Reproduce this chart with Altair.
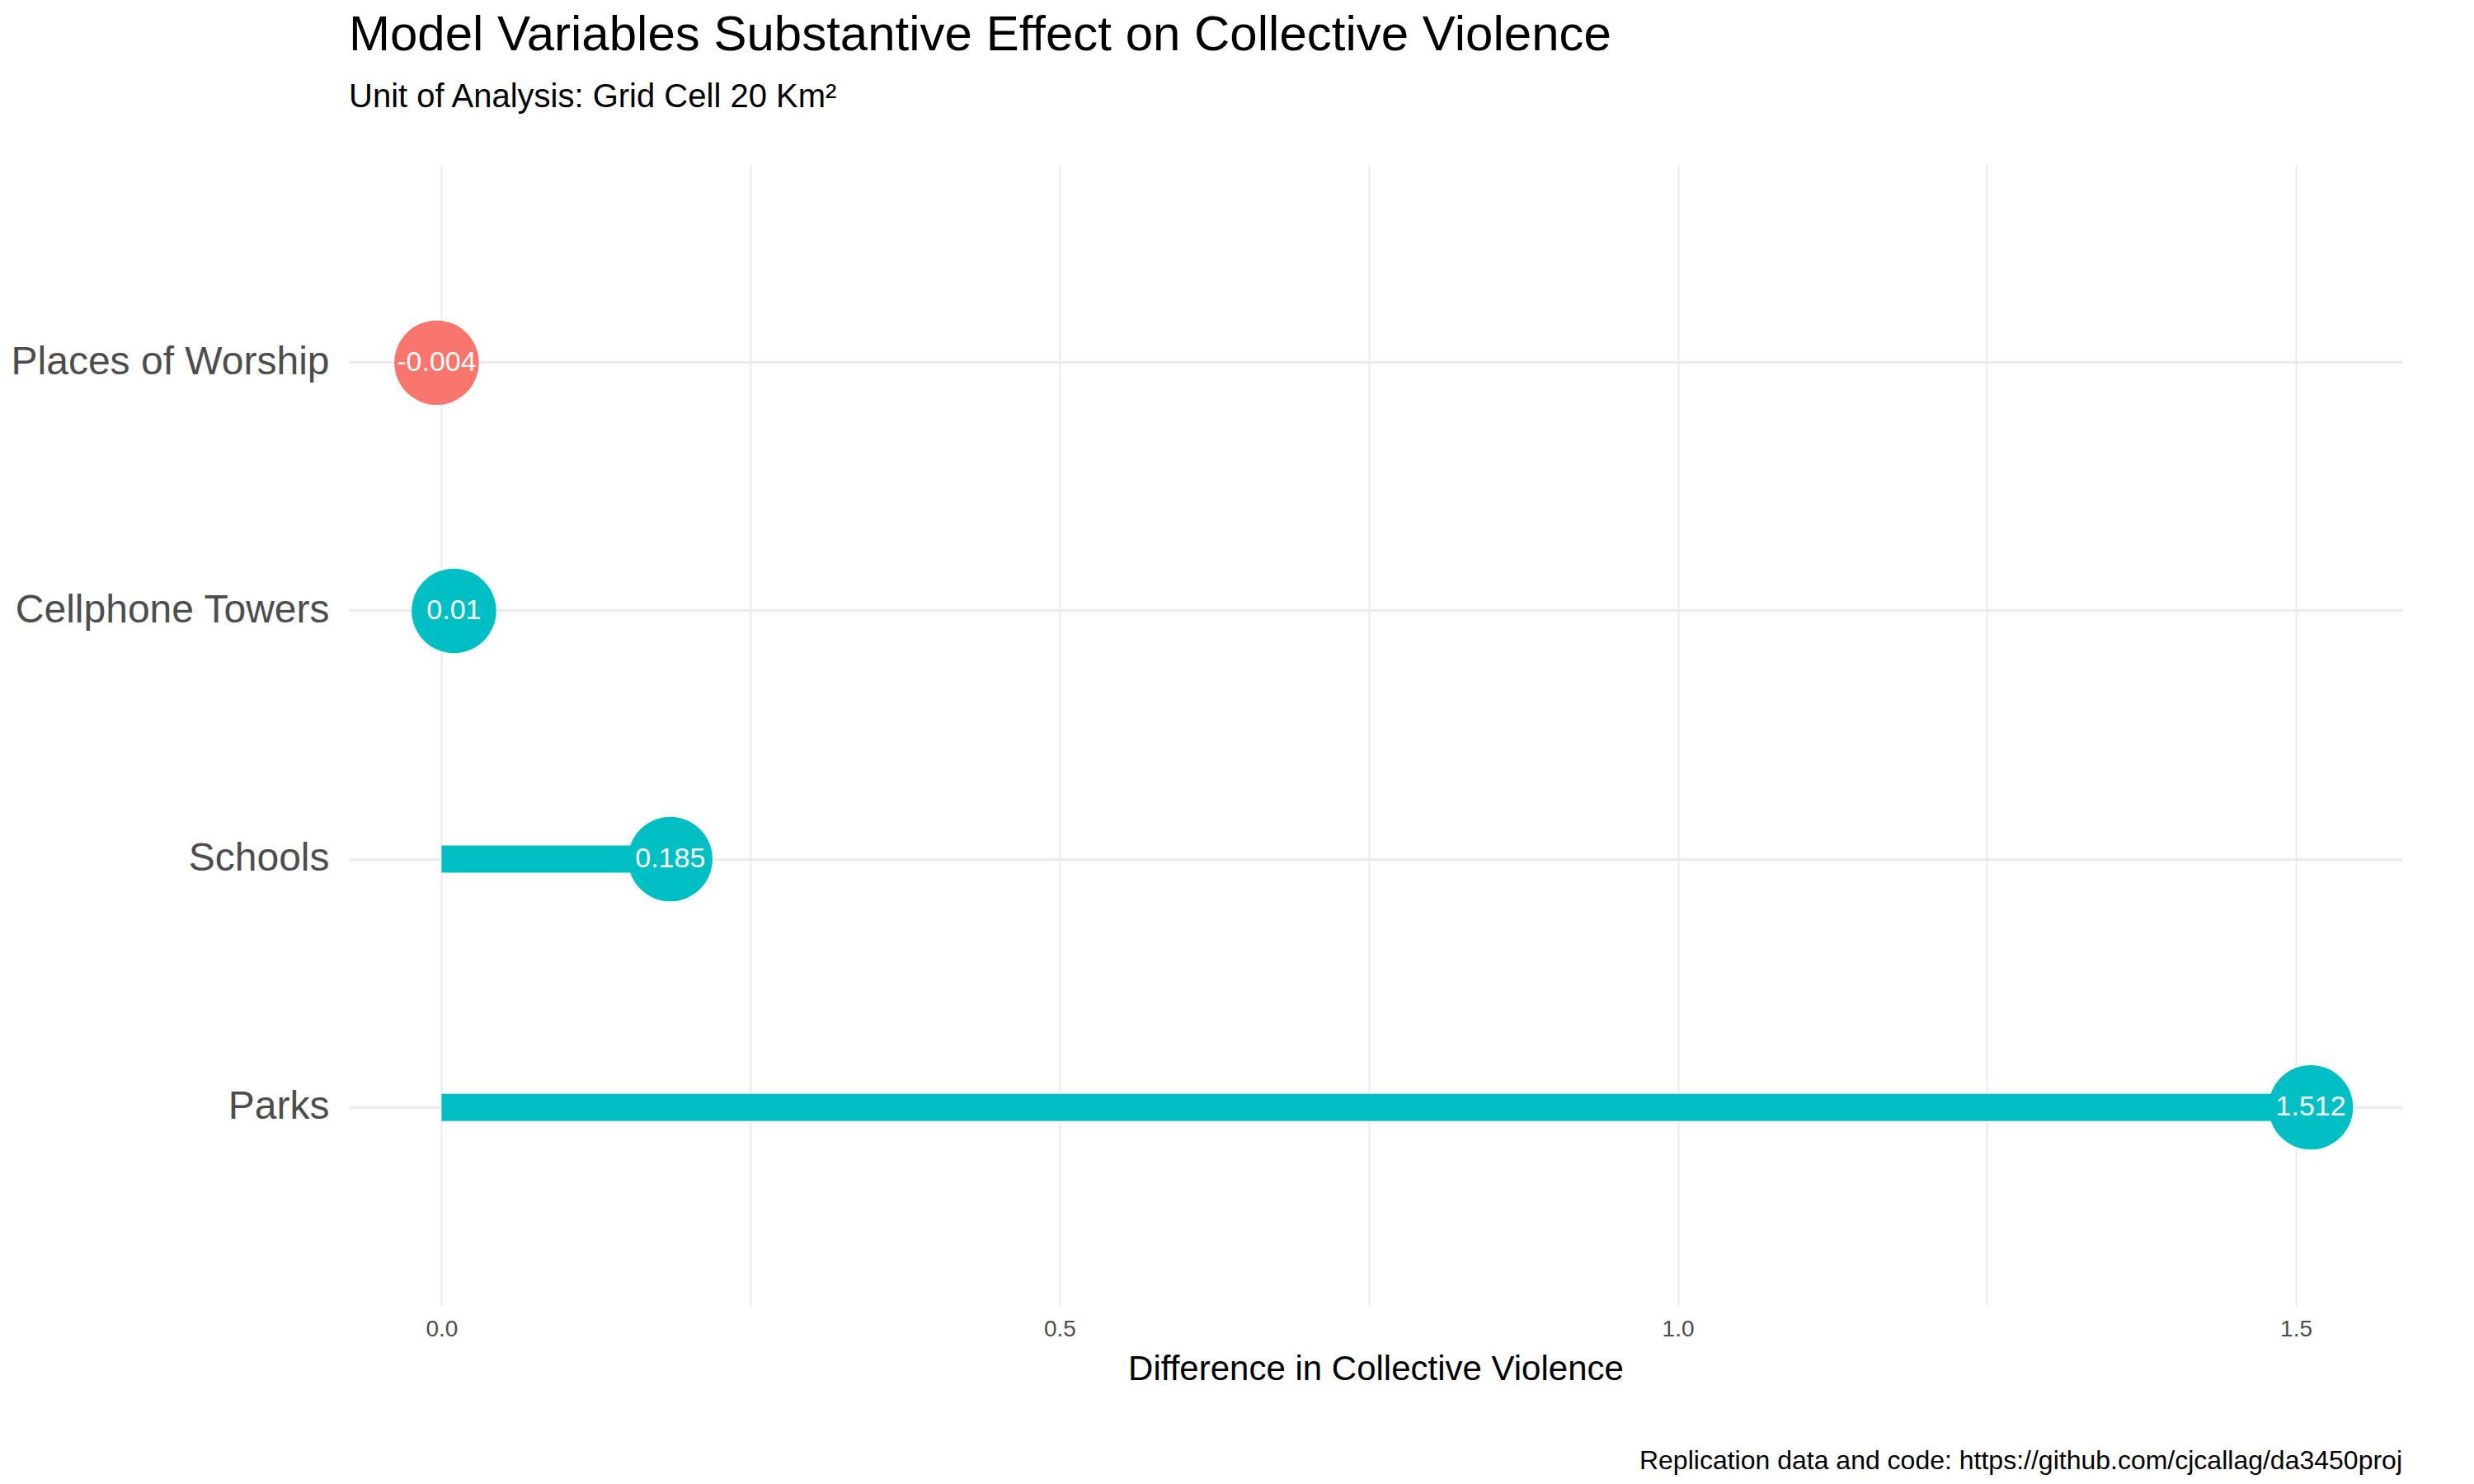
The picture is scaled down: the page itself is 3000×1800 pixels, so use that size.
import altair as alt
import pandas as pd

categories = ["Places of Worship", "Cellphone Towers", "Schools", "Parks"]
values = [-0.004, 0.01, 0.185, 1.512]
labels = ["-0.004", "0.01", "0.185", "1.512"]
signs = ["neg", "pos", "pos", "pos"]

df = pd.DataFrame({"cat": categories, "val": values, "lab": labels, "sign": signs, "zero": [0]*4})

W, H = 2490, 1385
xs = alt.Scale(domain=[-0.075, 1.586], nice=False, zero=False)
ys = alt.Scale(domain=categories, padding=0.6)
col = alt.Color("sign:N", scale=alt.Scale(domain=["neg", "pos"], range=["#F8766D", "#00BFC4"]), legend=None)

base = alt.Chart(df)
rule = base.mark_rule(strokeWidth=33).encode(
    x=alt.X("zero:Q", scale=xs, axis=alt.Axis(
        values=[0, 0.25, 0.5, 0.75, 1.0, 1.25, 1.5],
        labelExpr="datum.value % 0.5 == 0 ? format(datum.value, '.1f') : ''",
        title="Difference in Collective Violence", titleFontSize=42, titleFont="Liberation Sans",
        titleFontWeight="normal", titleColor="black", titlePadding=14,
        labelFontSize=28, labelColor="#4D4D4D", labelFont="Liberation Sans", labelPadding=14,
        gridColor="#EBEBEB", gridWidth=2, domain=False, ticks=False)),
    x2="val:Q",
    y=alt.Y("cat:N", scale=ys, sort=categories, axis=alt.Axis(
        title=None, labelFontSize=48, labelColor="#4D4D4D", labelFont="Liberation Sans", labelPadding=24,
        labelLimit=0, grid=True, gridColor="#EBEBEB", gridWidth=3, domain=False, ticks=False)),
    color=col,
)
pts = base.mark_circle(size=10500, opacity=1).encode(x=alt.X("val:Q", scale=xs), y=alt.Y("cat:N", scale=ys, sort=categories), color=col)
txt = base.mark_text(color="white", fontSize=34, font="Liberation Sans").encode(
    x=alt.X("val:Q", scale=xs), y=alt.Y("cat:N", scale=ys, sort=categories), text="lab:N")
cap = alt.Chart(pd.DataFrame({"t": ["Replication data and code: https://github.com/cjcallag/da3450proj"]})).mark_text(
    align="right", baseline="middle", fontSize=32, font="Liberation Sans", color="black").encode(
    x=alt.value(W), y=alt.value(H + 188), text="t:N")

chart = alt.layer(rule, pts, txt, cap).properties(
    width=W, height=H,
    title=alt.TitleParams("Model Variables Substantive Effect on Collective Violence",
        subtitle="Unit of Analysis: Grid Cell 20 Km²", anchor="start", frame="group",
        fontSize=60, font="Liberation Sans", fontWeight="normal", color="black",
        subtitleFontSize=40, subtitleFont="Liberation Sans", subtitleColor="black",
        subtitlePadding=24, offset=60),
    background="white",
).configure_view(stroke=None)

chart.save("out.html", embed_options={"renderer": "svg", "actions": False})
